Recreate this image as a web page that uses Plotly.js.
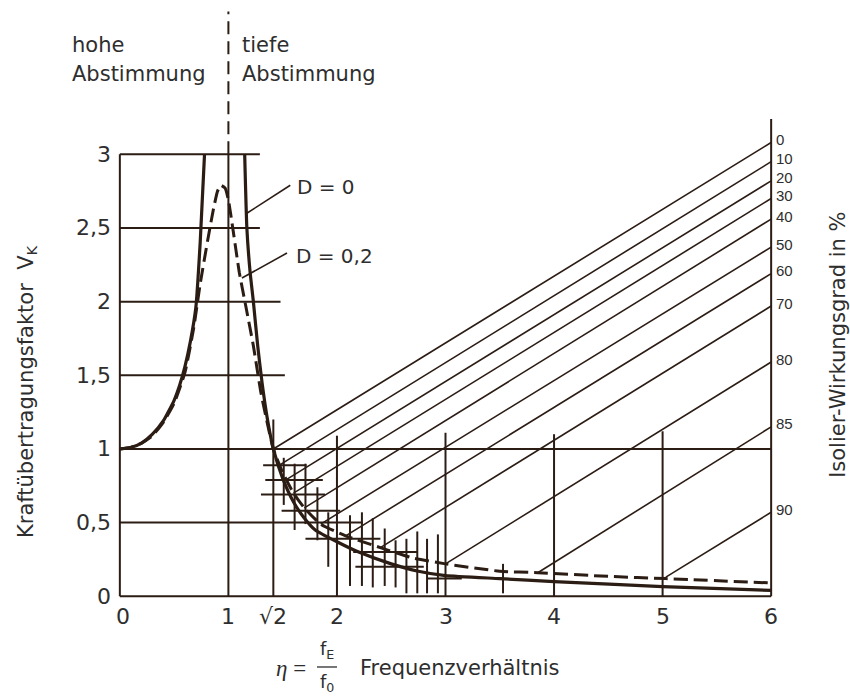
<!DOCTYPE html>
<html><head><meta charset="utf-8">
<script src="https://cdn.plot.ly/plotly-3.0.1.min.js"></script>
<style>html,body{margin:0;padding:0;background:#fff}#chart{width:850px;height:698px}</style>
</head><body><div id="chart"></div>
<script>
// ---- curve data (eta = f_E/f_0, V_K) ----
const etaD0Left = [0, 0.1, 0.2, 0.3, 0.4, 0.5, 0.55, 0.6, 0.65, 0.7, 0.74, 0.78];
const vD0Left   = [1, 1.01, 1.04, 1.10, 1.19, 1.33, 1.43, 1.56, 1.73, 1.96, 2.4, 3.0];
const etaD0Right = [1.15, 1.17, 1.2, 1.23, 1.27, 1.31, 1.36, 1.414, 1.5, 1.6, 1.7, 1.8, 2.0, 2.2, 2.5, 2.75, 3.0, 3.5, 4, 5, 6];
const vD0Right   = [3.0, 2.5, 2.2, 2.0, 1.7, 1.45, 1.2, 1.0, 0.8, 0.64, 0.53, 0.45, 0.37, 0.30, 0.22, 0.17, 0.14, 0.12, 0.10, 0.065, 0.04];
const etaD02 = [0, 0.1, 0.2, 0.3, 0.4, 0.5, 0.6, 0.68, 0.74, 0.81, 0.86, 0.9, 0.93, 0.97, 1.0, 1.04, 1.1, 1.16, 1.23, 1.3, 1.36, 1.414, 1.5, 1.6, 1.7, 1.85, 2.08, 2.4, 2.7, 3.0, 3.5, 3.85, 4.5, 5.03, 6];
const vD02   = [1, 1.01, 1.04, 1.09, 1.18, 1.31, 1.52, 1.82, 2.12, 2.42, 2.62, 2.75, 2.79, 2.77, 2.69, 2.50, 2.20, 1.97, 1.70, 1.38, 1.17, 1.0, 0.84, 0.70, 0.60, 0.49, 0.41, 0.33, 0.26, 0.22, 0.17, 0.16, 0.135, 0.12, 0.09];

// ---- isolation efficiency lines ----
const isoLabels   = ['0','10','20','30','40','50','60','70','80','85','90'];
const isoEndV     = [3.08, 2.95, 2.82, 2.70, 2.56, 2.37, 2.19, 1.97, 1.59, 1.15, 0.57];
const isoStartEta = [1.414, 1.47, 1.53, 1.60, 1.70, 1.85, 2.08, 2.40, 3.0, 3.85, 5.03];
const isoStartV   = [1.0, 0.89, 0.79, 0.70, 0.60, 0.49, 0.41, 0.33, 0.22, 0.16, 0.13];
const isoEndEta = 6;

// ---- tick labels ----
const yTickVals = [0, 0.5, 1, 1.5, 2, 2.5, 3];
const yTickText = ['0', '0,5', '1', '1,5', '2', '2,5', '3'];
const xTickVals = [0, 1, 1.414, 2, 3, 4, 5, 6];
const xTickText = ['0', '1', '√2', '2', '3', '4', '5', '6'];

// ---- grid segments ----
const hGridV   = [3, 2.5, 2, 1.5, 1, 0.5, 0];
const hGridEnd = [1.29, 1.29, 1.48, 1.52, 6, 2.24, 6];
const vGridEta = [0, 1, 1.414, 2, 3, 4, 5, 6];
const vGridTop = [3, 3, 1.2, 1.09, 1.11, 1.10, 1.12, 3.24];
const dividerEta = [1, 1];
const dividerV = [3, 3.97];

// ---- tolerance hatch marks ----
const hatchVEta  = [1.51, 1.61, 1.71, 1.82, 1.92, 2.12, 2.23, 2.33, 2.44, 2.54, 2.64, 2.74, 2.83, 2.93, 3.53];
const hatchVLow  = [0.62, 0.45, 0.49, 0.38, 0.20, 0.07, 0.07, 0.06, 0.07, 0.06, 0.02, 0.02, 0.02, 0.02, 0.02];
const hatchVHigh = [0.94, 0.90, 0.90, 0.74, 0.57, 0.55, 0.57, 0.53, 0.46, 0.38, 0.39, 0.44, 0.39, 0.42, 0.22];
const hatchHV     = [0.89, 0.79, 0.69, 0.58, 0.39, 0.30, 0.20, 0.12];
const hatchHStart = [1.32, 1.34, 1.30, 1.49, 1.71, 2.15, 2.17, 2.83];
const hatchHEnd   = [1.72, 1.87, 1.89, 2.03, 2.40, 2.74, 2.80, 3.15];

// ---- curve labels ----
const curveLabels = ['D = 0', 'D = 0,2'];
const curveLabelEta = [1.61, 1.60];
const curveLabelV = [2.78, 2.31];
const leaderStartEta = [1.57, 1.54];
const leaderStartV = [2.79, 2.33];
const leaderEndEta = [1.17, 1.125];
const leaderEndV = [2.60, 2.16];

const INK = '#2b1c14';
const TXT = '#2e2e2e';
const FONT = 'DejaVu Sans, sans-serif';

function segs(x0s, y0s, x1s, y1s) {
  const x = [], y = [];
  for (let i = 0; i < x0s.length; i++) { x.push(x0s[i], x1s[i], null); y.push(y0s[i], y1s[i], null); }
  return {x, y};
}

const hg = segs(hGridV.map(() => 0), hGridV, hGridEnd, hGridV);
const vg = segs(vGridEta, vGridEta.map(() => 0), vGridEta, vGridTop);
const iso = segs(isoStartEta, isoStartV, isoStartEta.map(() => isoEndEta), isoEndV);
const hv = segs(hatchVEta, hatchVLow, hatchVEta, hatchVHigh);
const hh = segs(hatchHStart, hatchHV, hatchHEnd, hatchHV);
const ld = segs(leaderStartEta, leaderStartV, leaderEndEta, leaderEndV);

const base = {type: 'scatter', mode: 'lines', hoverinfo: 'skip', showlegend: false};
const traces = [
  Object.assign({}, base, {x: hg.x, y: hg.y, line: {color: INK, width: 2}}),
  Object.assign({}, base, {x: vg.x, y: vg.y, line: {color: INK, width: 2}}),
  Object.assign({}, base, {x: dividerEta, y: dividerV, line: {color: INK, width: 2, dash: '13px,7px'}}),
  Object.assign({}, base, {x: iso.x, y: iso.y, line: {color: INK, width: 1.6}}),
  Object.assign({}, base, {x: hv.x, y: hv.y, line: {color: INK, width: 2}}),
  Object.assign({}, base, {x: hh.x, y: hh.y, line: {color: INK, width: 2}}),
  Object.assign({}, base, {x: ld.x, y: ld.y, line: {color: INK, width: 1.6}}),
  Object.assign({}, base, {x: etaD0Left, y: vD0Left, line: {color: INK, width: 3.2, shape: 'spline', smoothing: 0.5}}),
  Object.assign({}, base, {x: etaD0Right, y: vD0Right, line: {color: INK, width: 3.2, shape: 'spline', smoothing: 0.5}}),
  Object.assign({}, base, {x: etaD02, y: vD02, line: {color: INK, width: 3, dash: '14px,6px', shape: 'spline', smoothing: 0.5}})
];

const ann = [];
yTickVals.forEach((v, i) => ann.push({x: 0, y: v, xref: 'x', yref: 'y', text: yTickText[i], showarrow: false,
  xanchor: 'right', yanchor: 'middle', xshift: -7, font: {family: FONT, size: 22, color: TXT}}));
xTickVals.forEach((v, i) => ann.push({x: v, y: 0, xref: 'x', yref: 'y', text: xTickText[i], showarrow: false,
  xanchor: 'center', yanchor: 'middle', yshift: -20, xshift: i === 0 ? 3 : 0, font: {family: FONT, size: 22, color: TXT}}));
isoLabels.forEach((t, i) => ann.push({x: isoEndEta, y: isoEndV[i], xref: 'x', yref: 'y', text: t, showarrow: false,
  xanchor: 'left', yanchor: 'middle', xshift: 3, yshift: 3, font: {family: 'Liberation Sans, Arial, sans-serif', size: 15, color: TXT}}));
curveLabels.forEach((t, i) => ann.push({x: curveLabelEta[i], y: curveLabelV[i], xref: 'x', yref: 'y', text: t, showarrow: false,
  xanchor: 'left', yanchor: 'middle', font: {family: FONT, size: 20, color: TXT}}));

const paperText = (x, y, text, opts) => Object.assign({x, y, xref: 'paper', yref: 'paper', text, showarrow: false,
  xanchor: 'left', yanchor: 'middle', font: {family: FONT, size: 21, color: TXT}}, opts || {});
ann.push(paperText(-0.058, 0.937, 'hohe'));
ann.push(paperText(-0.058, 0.889, 'Abstimmung'));
ann.push(paperText(0.1947, 0.937, 'tiefe'));
ann.push(paperText(0.1947, 0.889, 'Abstimmung'));
ann.push(paperText(-0.1218, 0.3626, 'Kraftübertragungsfaktor  V<sub>K</sub>', {xanchor: 'center', textangle: -90}));
ann.push(paperText(1.083, 0.4404, 'Isolier-Wirkungsgrad in %', {xanchor: 'center', textangle: -90}));
ann.push(paperText(0.2452, -0.0960, '<i>η</i> =', {font: {family: 'Liberation Serif, serif', size: 23, color: TXT}}));
ann.push(paperText(0.3239, -0.0646, 'f<sub>E</sub>', {xanchor: 'center', font: {family: FONT, size: 18, color: TXT}}));
ann.push(paperText(0.3239, -0.1195, 'f<sub>0</sub>', {xanchor: 'center', font: {family: FONT, size: 18, color: TXT}}));
ann.push(paperText(0.370, -0.0944, 'Frequenzverhältnis'));

const layout = {
  width: 850, height: 698,
  margin: {l: 109, r: 68, t: 7, b: 87, pad: 0},
  paper_bgcolor: '#fff', plot_bgcolor: '#fff',
  xaxis: {range: [-0.1, 6.1], visible: false, fixedrange: true},
  yaxis: {range: [-0.1, 4.0], visible: false, fixedrange: true},
  annotations: ann,
  shapes: [{type: 'line', xref: 'paper', yref: 'paper', x0: 0.309, x1: 0.3388, y0: -0.0927, y1: -0.0927,
    line: {color: TXT, width: 1.3}}],
  showlegend: false
};

Plotly.newPlot('chart', traces, layout, {staticPlot: true, displayModeBar: false});
</script>
</body></html>
